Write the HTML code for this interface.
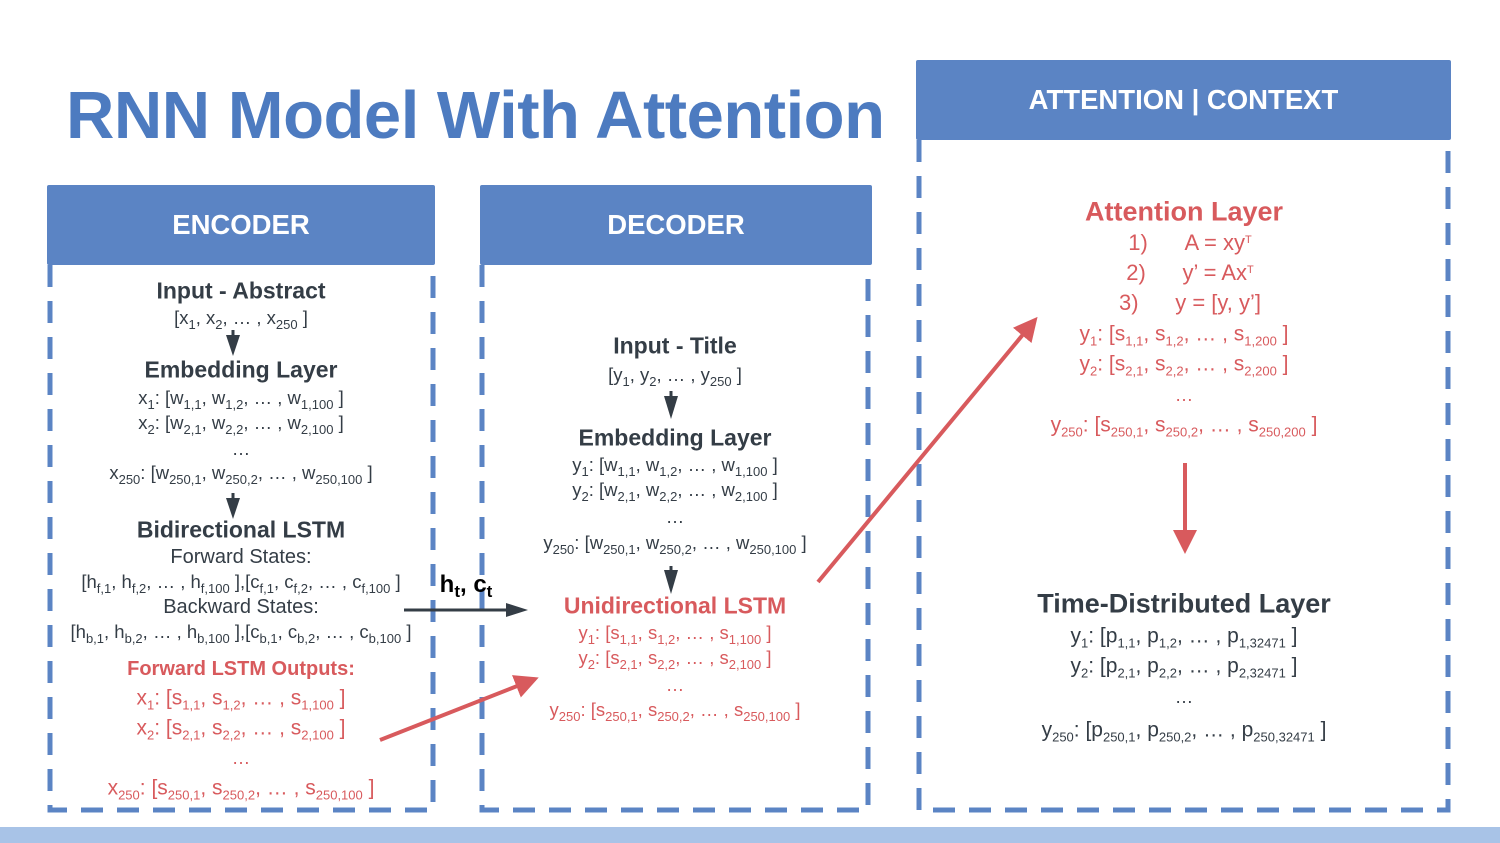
<!DOCTYPE html>
<html><head><meta charset="utf-8"><style>
body{margin:0;width:1500px;height:843px;background:#fff;position:relative;overflow:hidden;font-family:"Liberation Sans",sans-serif;color:#343d46}
.l{position:absolute;transform:translate(-50%,-50%);white-space:nowrap;font-size:18.5px;line-height:1}
.b{font-weight:bold;font-size:23px}
.r{color:#d85a5d}
sub{font-size:13px;vertical-align:-5px;line-height:0}
sup{font-size:11px;vertical-align:7px;line-height:0}
.hd{position:absolute;background:#5b84c4;color:#fff;font-weight:bold;font-size:27.5px;display:flex;align-items:center;justify-content:center;border-radius:2px}
svg{position:absolute;left:0;top:0}
</style></head><body>
<div style="position:absolute;left:66px;top:77px;font-size:67px;font-weight:bold;color:#4d7bc0;white-space:nowrap;letter-spacing:-0.5px">RNN Model With Attention</div>
<div style="position:absolute;left:0;top:827px;width:1500px;height:16px;background:#a8c3e7"></div>
<svg width="1500" height="843">
<g stroke="#5b84c4" stroke-width="5" fill="none" stroke-dasharray="22 14">
<path d="M50 265 V810 H433 V265"/>
<path d="M482 265 V810 H868 V265"/>
<path d="M919 140 V810 H1448 V140"/>
</g>
<g fill="#343d46">
<path d="M226 335 H240 L233 356z"/>
<path d="M226 498 H240 L233 519z"/>
<path d="M664 396 H678 L671 419z"/>
<path d="M664 570 H678 L671 594z"/>
<path d="M506 603 V617 L528 610z"/>
</g>
<g stroke="#343d46" stroke-width="3">
<line x1="233" y1="330" x2="233" y2="340"/>
<line x1="233" y1="493" x2="233" y2="503"/>
<line x1="671" y1="391" x2="671" y2="400"/>
<line x1="671" y1="566" x2="671" y2="575"/>
<line x1="404" y1="610" x2="510" y2="610"/>
</g>
<defs>
<marker id="rr" markerWidth="6" markerHeight="6" refX="5" refY="3" orient="auto" markerUnits="strokeWidth"><path d="M0,0 L6,3 L0,6z" fill="#d85a5d"/></marker>
</defs>
<g stroke="#d85a5d" stroke-width="4" marker-end="url(#rr)">
<line x1="380" y1="740" x2="535" y2="679"/>
<line x1="818" y1="582" x2="1035" y2="320"/>
<line x1="1185" y1="463" x2="1185" y2="550"/>
</g>
</svg>
<div class="hd" style="left:47px;top:185px;width:388px;height:80px">ENCODER</div>
<div class="hd" style="left:480px;top:185px;width:392px;height:80px">DECODER</div>
<div class="hd" style="left:916px;top:60px;width:535px;height:80px">ATTENTION | CONTEXT</div>

<div class="l b" style="left:241px;top:291px">Input - Abstract</div>
<div class="l" style="left:241px;top:318px">[x<sub>1</sub>, x<sub>2</sub>, … , x<sub>250</sub> ]</div>
<div class="l b" style="left:241px;top:370px">Embedding Layer</div>
<div class="l" style="left:241px;top:398px">x<sub>1</sub>: [w<sub>1,1</sub>, w<sub>1,2</sub>, … , w<sub>1,100</sub> ]</div>
<div class="l" style="left:241px;top:423px">x<sub>2</sub>: [w<sub>2,1</sub>, w<sub>2,2</sub>, … , w<sub>2,100</sub> ]</div>
<div class="l" style="left:241px;top:449px">…</div>
<div class="l" style="left:241px;top:473px">x<sub>250</sub>: [w<sub>250,1</sub>, w<sub>250,2</sub>, … , w<sub>250,100</sub> ]</div>
<div class="l b" style="left:241px;top:530px">Bidirectional LSTM</div>
<div class="l" style="left:241px;top:557px;font-size:20px">Forward States:</div>
<div class="l" style="left:241px;top:582px">[h<sub>f,1</sub>, h<sub>f,2</sub>, … , h<sub>f,100</sub> ],[c<sub>f,1</sub>, c<sub>f,2</sub>, … , c<sub>f,100</sub> ]</div>
<div class="l" style="left:241px;top:607px;font-size:20px">Backward States:</div>
<div class="l" style="left:241px;top:632px">[h<sub>b,1</sub>, h<sub>b,2</sub>, … , h<sub>b,100</sub> ],[c<sub>b,1</sub>, c<sub>b,2</sub>, … , c<sub>b,100</sub> ]</div>
<div class="l b r" style="left:241px;top:669px;font-size:20px">Forward LSTM Outputs:</div>
<div class="l r" style="left:241px;top:698px;font-size:21px">x<sub>1</sub>: [s<sub>1,1</sub>, s<sub>1,2</sub>, … , s<sub>1,100</sub> ]</div>
<div class="l r" style="left:241px;top:728px;font-size:21px">x<sub>2</sub>: [s<sub>2,1</sub>, s<sub>2,2</sub>, … , s<sub>2,100</sub> ]</div>
<div class="l r" style="left:241px;top:758px">…</div>
<div class="l r" style="left:241px;top:788px;font-size:21px">x<sub>250</sub>: [s<sub>250,1</sub>, s<sub>250,2</sub>, … , s<sub>250,100</sub> ]</div>

<div class="l b" style="left:466px;top:585px;color:#000;font-size:24px">h<sub style="font-size:17px">t</sub>, c<sub style="font-size:17px">t</sub></div>

<div class="l b" style="left:675px;top:346px">Input - Title</div>
<div class="l" style="left:675px;top:375px">[y<sub>1</sub>, y<sub>2</sub>, … , y<sub>250</sub> ]</div>
<div class="l b" style="left:675px;top:438px">Embedding Layer</div>
<div class="l" style="left:675px;top:465px">y<sub>1</sub>: [w<sub>1,1</sub>, w<sub>1,2</sub>, … , w<sub>1,100</sub> ]</div>
<div class="l" style="left:675px;top:490px">y<sub>2</sub>: [w<sub>2,1</sub>, w<sub>2,2</sub>, … , w<sub>2,100</sub> ]</div>
<div class="l" style="left:675px;top:517px">…</div>
<div class="l" style="left:675px;top:543px">y<sub>250</sub>: [w<sub>250,1</sub>, w<sub>250,2</sub>, … , w<sub>250,100</sub> ]</div>
<div class="l b r" style="left:675px;top:606px">Unidirectional LSTM</div>
<div class="l r" style="left:675px;top:633px">y<sub>1</sub>: [s<sub>1,1</sub>, s<sub>1,2</sub>, … , s<sub>1,100</sub> ]</div>
<div class="l r" style="left:675px;top:658px">y<sub>2</sub>: [s<sub>2,1</sub>, s<sub>2,2</sub>, … , s<sub>2,100</sub> ]</div>
<div class="l r" style="left:675px;top:685px">…</div>
<div class="l r" style="left:675px;top:710px">y<sub>250</sub>: [s<sub>250,1</sub>, s<sub>250,2</sub>, … , s<sub>250,100</sub> ]</div>

<div class="l b r" style="left:1184px;top:212px;font-size:27px">Attention Layer</div>
<div class="l r" style="left:1190px;top:243px;font-size:22px">1)&nbsp;&nbsp;&nbsp;&nbsp;&nbsp;&nbsp;A = xy<sup>T</sup></div>
<div class="l r" style="left:1190px;top:273px;font-size:22px">2)&nbsp;&nbsp;&nbsp;&nbsp;&nbsp;&nbsp;y’ = Ax<sup>T</sup></div>
<div class="l r" style="left:1190px;top:303px;font-size:22px">3)&nbsp;&nbsp;&nbsp;&nbsp;&nbsp;&nbsp;y = [y, y’]</div>
<div class="l r" style="left:1184px;top:334px;font-size:21px">y<sub>1</sub>: [s<sub>1,1</sub>, s<sub>1,2</sub>, … , s<sub>1,200</sub> ]</div>
<div class="l r" style="left:1184px;top:364px;font-size:21px">y<sub>2</sub>: [s<sub>2,1</sub>, s<sub>2,2</sub>, … , s<sub>2,200</sub> ]</div>
<div class="l r" style="left:1184px;top:395px">…</div>
<div class="l r" style="left:1184px;top:425px;font-size:21px">y<sub>250</sub>: [s<sub>250,1</sub>, s<sub>250,2</sub>, … , s<sub>250,200</sub> ]</div>

<div class="l b" style="left:1184px;top:604px;font-size:27px">Time-Distributed Layer</div>
<div class="l" style="left:1184px;top:636px;font-size:21px">y<sub>1</sub>: [p<sub>1,1</sub>, p<sub>1,2</sub>, … , p<sub>1,32471</sub> ]</div>
<div class="l" style="left:1184px;top:666px;font-size:21px">y<sub>2</sub>: [p<sub>2,1</sub>, p<sub>2,2</sub>, … , p<sub>2,32471</sub> ]</div>
<div class="l" style="left:1184px;top:697px">…</div>
<div class="l" style="left:1184px;top:730px;font-size:21px">y<sub>250</sub>: [p<sub>250,1</sub>, p<sub>250,2</sub>, … , p<sub>250,32471</sub> ]</div>
</body></html>
